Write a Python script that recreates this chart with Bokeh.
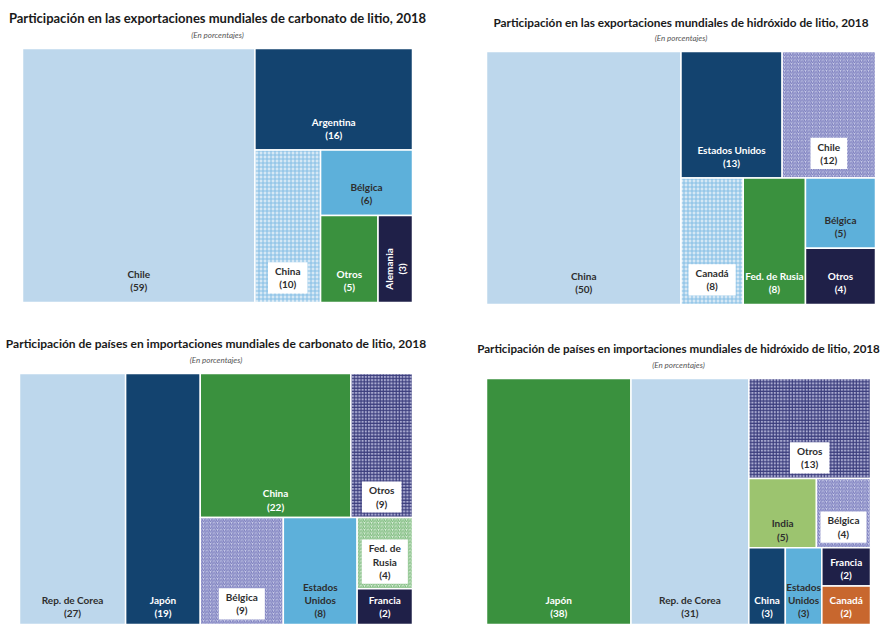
import math
from bokeh.plotting import figure
from bokeh.models import ColumnDataSource, Range1d
from bokeh.layouts import gridplot
from bokeh.embed import file_html
from bokeh.resources import INLINE
from bokeh.core.properties import value

# ---------------- data ----------------
t1 = "Participación en las exportaciones mundiales de carbonato de litio, 2018"
c1 = ["Chile", "Argentina", "China", "Bélgica", "Otros", "Alemania"]
v1 = [59, 16, 10, 6, 5, 3]

t2 = "Participación en las exportaciones mundiales de hidróxido de litio, 2018"
c2 = ["China", "Estados Unidos", "Chile", "Canadá", "Fed. de Rusia", "Bélgica", "Otros"]
v2 = [50, 13, 12, 8, 8, 5, 4]

t3 = "Participación de países en importaciones mundiales de carbonato de litio, 2018"
c3 = ["Rep. de Corea", "Japón", "China", "Otros", "Bélgica", "Estados Unidos", "Fed. de Rusia", "Francia"]
v3 = [27, 19, 22, 9, 9, 8, 4, 2]

t4 = "Participación de países en importaciones mundiales de hidróxido de litio, 2018"
c4 = ["Japón", "Rep. de Corea", "Otros", "India", "Bélgica", "China", "Estados Unidos", "Francia", "Canadá"]
v4 = [38, 31, 13, 5, 4, 3, 3, 2, 2]

subtitle = "(En porcentajes)"

# ---------------- treemap structure (split direction, children) ----------------
tree1 = ("h", [0, ("v", [1, ("h", [2, ("v", [3, ("h", [4, 5])])])])])
tree2 = ("h", [0, ("v", [("h", [1, 2]), ("h", [3, 4, ("v", [5, 6])])])])
tree3 = ("h", [0, 1, ("v", [("h", [2, 3]), ("h", [4, 5, ("v", [6, 7])])])])
tree4 = ("h", [0, 1, ("v", [2, ("h", [3, 4]), ("h", [5, 6, ("v", [7, 8])])])])

# ---------------- styles ----------------
DARKTXT = "#2e2e2e"
STY = {
    "light":  dict(fill="#bdd7ec", txt=DARKTXT, hatch=None),
    "dark":   dict(fill="#13436f", txt="white", hatch=None),
    "mid":    dict(fill="#5db0da", txt=DARKTXT, hatch=None),
    "green":  dict(fill="#3a913e", txt="white", hatch=None),
    "navy":   dict(fill="#1f2048", txt="white", hatch=None),
    "lgreen": dict(fill="#9cc46f", txt=DARKTXT, hatch=None),
    "orange": dict(fill="#c8672e", txt="white", hatch=None),
    "gridblue":  dict(fill="#d6e8f5", txt=DARKTXT, hatch="+", hcol="#86bfe5", hscale=4, hw=1.1),
    "diagnavy":  dict(fill="#c9cbe8", txt=DARKTXT, hatch="/", hcol="#7679bb", hscale=3.5, hw=1.0),
    "gridnavy":  dict(fill="#a9aad0", txt=DARKTXT, hatch="+", hcol="#3a3c7c", hscale=3.2, hw=1.1),
    "diaggreen": dict(fill="#dbeedb", txt=DARKTXT, hatch="/", hcol="#78b878", hscale=3.5, hw=1.0),
}
s1 = ["light", "dark", "gridblue", "mid", "green", "navy"]
s2 = ["light", "dark", "diagnavy", "gridblue", "green", "mid", "navy"]
s3 = ["light", "dark", "green", "gridnavy", "diagnavy", "mid", "diaggreen", "navy"]
s4 = ["green", "light", "gridnavy", "lgreen", "diagnavy", "dark", "mid", "navy", "orange"]

wrap3 = {"Estados Unidos": "Estados\nUnidos", "Fed. de Rusia": "Fed. de\nRusia"}
wrap4 = {"Estados Unidos": "Estados\nUnidos"}

FONT = "Lato"
LSIZE = "10px"


def total(node, vals):
    if isinstance(node, int):
        return vals[node]
    return sum(total(k, vals) for k in node[1])


def place(node, vals, x0, y0, x1, y1, out):
    if isinstance(node, int):
        out[node] = (x0, y0, x1, y1)
        return
    d, kids = node
    tot = total(node, vals)
    if d == "h":
        x = x0
        for k in kids:
            w = (x1 - x0) * total(k, vals) / tot
            place(k, vals, x, y0, x + w, y1, out)
            x += w
    else:
        y = y0
        for k in kids:
            h = (y0 - y1) * total(k, vals) / tot
            place(k, vals, x0, y, x1, y - h, out)
            y -= h


def panel(title, names, vals, tree, styles, wrap, rotate, w, h, bl, br, bt, bb,
          tsize, label_dy, title_dy=-30, sub_dy=-14):
    out = {}
    place(tree, vals, 0.0, 100.0, 100.0, 0.0, out)
    fw = w - bl - br
    fh = h - bt - bb
    xr = Range1d(-bl * 100.0 / fw, 100 + br * 100.0 / fw)
    yr = Range1d(-bb * 100.0 / fh, 100 + bt * 100.0 / fh)
    p = figure(width=w, height=h, x_range=xr, y_range=yr,
               output_backend="svg", toolbar_location=None,
               x_axis_location=None, y_axis_location=None,
               min_border=0, title_location=None)
    p.grid.visible = False
    p.outline_line_color = None
    p.background_fill_color = "white"
    p.border_fill_color = "white"

    for i, name in enumerate(names):
        x0, y0, x1, y1 = out[i]
        st = STY[styles[i]]
        src = ColumnDataSource(dict(l=[x0], r=[x1], t=[y0], b=[y1]))
        kw = dict(fill_color=st["fill"], line_color="white", line_width=1.5)
        if st["hatch"]:
            kw.update(hatch_pattern=st["hatch"], hatch_color=st["hcol"],
                      hatch_scale=st["hscale"], hatch_weight=st["hw"])
        p.quad(left="l", right="r", top="t", bottom="b", source=src, **kw)

    for i, name in enumerate(names):
        x0, y0, x1, y1 = out[i]
        st = STY[styles[i]]
        txt = "%s\n(%d)" % (wrap.get(name, name), vals[i])
        cx = (x0 + x1) / 2
        if name in rotate:
            p.text(x=[cx], y=[(y0 + y1) / 2], text=[txt], angle=math.pi / 2,
                   text_align="center", text_baseline="middle", y_offset=10,
                   text_font=value(FONT), text_font_style="bold", text_font_size=LSIZE,
                   text_color=st["txt"], text_line_height=1.1)
        else:
            kw = {}
            if st["hatch"]:
                kw = dict(background_fill_color="white", padding=(7, 3))
            p.text(x=[cx], y=[y1], text=[txt], y_offset=label_dy,
                   text_align="center", text_baseline="bottom",
                   text_font=value(FONT), text_font_style="bold", text_font_size=LSIZE,
                   text_color=st["txt"], text_line_height=1.1, **kw)

    # chart title and subtitle, centred over the treemap
    p.text(x=[50], y=[100], text=[title], y_offset=title_dy,
           text_align="center", text_baseline="middle",
           text_font=value(FONT), text_font_style="bold", text_font_size=tsize,
           text_color="#1a1a1a")
    p.text(x=[50], y=[100], text=[subtitle], y_offset=sub_dy,
           text_align="center", text_baseline="middle",
           text_font=value(FONT), text_font_style="italic", text_font_size="8px",
           text_color="#555555")
    return p


p1 = panel(t1, c1, v1, tree1, s1, {}, {"Alemania"}, 441, 312, 22, 29, 48, 10, "13px", -9, -31, -14)
p2 = panel(t2, c2, v2, tree2, s2, {}, set(), 442, 312, 45, 8, 51, 8, "11.8px", -9, -29, -14)
p3 = panel(t3, c3, v3, tree3, s3, wrap3, set(), 441, 312, 19, 29, 61, 0, "12px", -5, -30, -14)
p4 = panel(t4, c4, v4, tree4, s4, wrap4, set(), 442, 312, 45, 13, 66, 0, "11.6px", -5, -30, -14)

grid = gridplot([[p1, p2], [p3, p4]], toolbar_location=None)

open("out.html", "w").write(file_html(grid, INLINE))
